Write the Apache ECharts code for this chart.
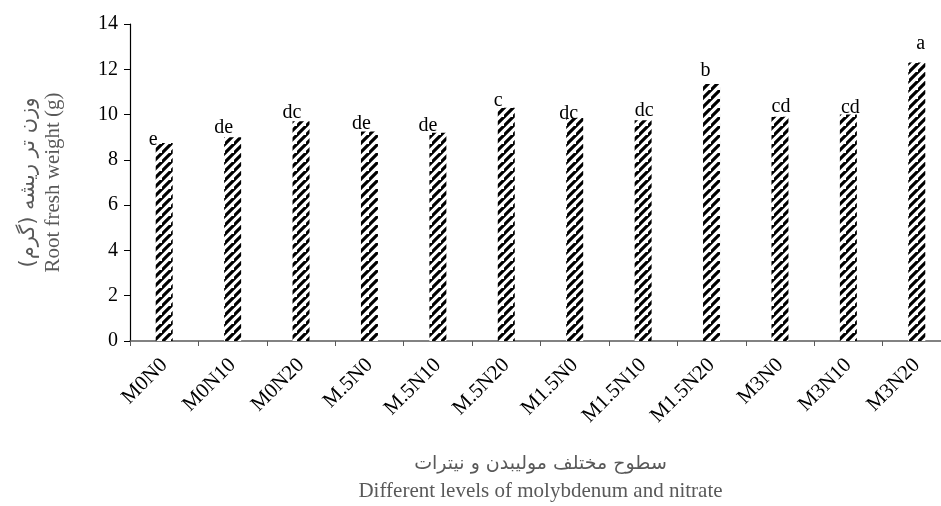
<!DOCTYPE html>
<html><head><meta charset="utf-8">
<script src="https://cdn.jsdelivr.net/npm/echarts@6/dist/echarts.min.js"></script>
<style>html,body{margin:0;padding:0;background:#fff}#c{width:941px;height:506px}</style>
</head><body><div id="c"></div>
<script>
const categories = ['M0N0','M0N10','M0N20','M.5N0','M.5N10','M.5N20','M1.5N0','M1.5N10','M1.5N20','M3N0','M3N10','M3N20'];
const values = [8.75, 9.0, 9.7, 9.25, 9.2, 10.3, 9.85, 9.75, 11.35, 9.9, 10.0, 12.3];
const letters = ['e','de','dc','de','de','c','dc','dc','b','cd','cd','a'];
const yTicks = [0,2,4,6,8,10,12,14];
// label nudges (style only): [dx, dy] in px
const labelNudge = [[-11,7],[-9,1],[-9,1],[-8,2],[-10,3],[-8,3],[-6,6],[1,1],[-6,-3],[1,0],[2,3],[4,-9]];

function hatch(){
  const s = 9, cv = document.createElement('canvas');
  cv.width = s; cv.height = s;
  const g = cv.getContext('2d');
  g.fillStyle = '#fff'; g.fillRect(0,0,s,s);
  g.strokeStyle = '#000'; g.lineWidth = 3.2; g.lineCap = 'butt';
  g.beginPath();
  g.moveTo(-2, s+2); g.lineTo(s+2, -2);
  g.moveTo(-2-s, s+2); g.lineTo(2, -2);
  g.moveTo(s-2, 2*s+2); g.lineTo(2*s+2, s-2);
  g.stroke();
  return cv;
}
const pat = {image: hatch(), repeat: 'repeat'};
const serif = '"Liberation Serif","DejaVu Serif",serif';
const arab = '"DejaVu Sans","Noto Sans",sans-serif';
const chart = echarts.init(document.getElementById('c'), null, {renderer:'canvas'});
chart.setOption({
  animation:false,
  grid:{left:130, top:24, bottom:165, right:-10, containLabel:false, outerBoundsMode:'none'},
  xAxis:{
    type:'category', data:categories,
    axisLine:{lineStyle:{color:'#595959', width:1.5}},
    axisTick:{show:true, alignWithLabel:false, length:5, lineStyle:{color:'#595959'}},
    axisLabel:{rotate:45, color:'#000', fontFamily:serif, fontSize:21, margin:21, interval:0},
    name:'{fa|سطوح مختلف مولیبدن و نیترات}\n{en|Different levels of molybdenum and nitrate}',
    nameLocation:'middle', nameGap:110,
    nameTextStyle:{rich:{
      fa:{fontFamily:arab, fontSize:19, color:'#595959', lineHeight:27},
      en:{fontFamily:serif, fontSize:21, color:'#595959', lineHeight:27}
    }}
  },
  yAxis:{
    type:'value', min:yTicks[0], max:yTicks[yTicks.length-1], interval:2,
    axisLine:{show:true, lineStyle:{color:'#000', width:1.2}},
    axisTick:{show:true, length:6, lineStyle:{color:'#000'}},
    splitLine:{show:false},
    axisLabel:{color:'#000', fontFamily:serif, fontSize:20, margin:12},
    name:'{fa|وزن تر ریشه (گرم)}\n{en|Root fresh weight (g)}',
    nameLocation:'middle', nameGap:65, nameRotate:90,
    nameTextStyle:{rich:{
      fa:{fontFamily:arab, fontSize:21, color:'#595959', lineHeight:24},
      en:{fontFamily:serif, fontSize:21, color:'#595959', lineHeight:24}
    }}
  },
  series:[{
    type:'bar', barWidth:17,
    data: values.map((v,i)=>({value:v, label:{offset:labelNudge[i]}})),
    itemStyle:{color:pat},
    label:{show:true, position:'top', distance:0, color:'#000', fontFamily:serif, fontSize:20,
      formatter:p=>letters[p.dataIndex]}
  }]
});
</script></body></html>
